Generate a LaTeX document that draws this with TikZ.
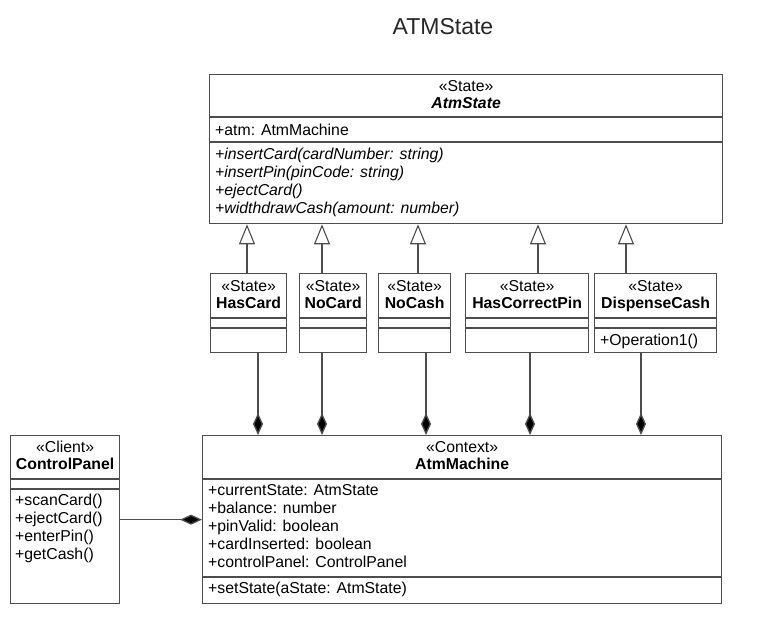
\documentclass[tikz,border=0pt]{standalone}
\usepackage{fontspec}
\setmainfont{Liberation Sans}
\usepackage{xcolor}
\usepackage{tikz}
\usetikzlibrary{arrows.meta}
\usetikzlibrary{calc}

\definecolor{linegray}{HTML}{4D4D4D}
\newcommand{\umlsize}{\fontsize{15.8}{18}\selectfont}

\begin{document}
\begin{tikzpicture}[x=1pt,y=-1pt,
        every node/.style={inner sep=0pt,font=\umlsize},
        classbox/.style={draw=linegray,line width=1.3pt,fill=white,anchor=north west},
        sepline/.style={draw=linegray,line width=1.3pt},
        stereo/.style={anchor=base},
        classname/.style={anchor=base,font=\umlsize\bfseries},
        member/.style={anchor=base west},
        gen/.style={draw=linegray,line width=1.3pt,-{Triangle[open,length=20pt,width=16pt,line width=1.1pt,fill=white]}},
        comp/.style={draw=linegray,line width=1.3pt,-{Diamond[length=22pt,width=10pt,fill=black]}}]
        \useasboundingbox (0,0) rectangle (763,643);

        \node[anchor=base,font=\fontsize{23}{26}\selectfont,text=black!85] (title) at (443,34) {ATMState};

        % abstract state
        \node[classbox,minimum width=513pt,minimum height=149pt] (atmstate) at (209,74) {};
        \draw[sepline] ([yshift=-43pt]atmstate.north west) -- ([yshift=-43pt]atmstate.north east);
        \draw[sepline] ([yshift=-68pt]atmstate.north west) -- ([yshift=-68pt]atmstate.north east);
        \node[stereo] at ([yshift=-17pt]atmstate.north) {«State»};
        \node[classname,font=\umlsize\bfseries\itshape] at ([yshift=-34pt]atmstate.north) {AtmState};
        \node[member] at ([xshift=6pt,yshift=-61pt]atmstate.north west) {+atm: AtmMachine};
        \node[member] at ([xshift=6pt,yshift=-85pt]atmstate.north west) {\textit{+insertCard(cardNumber: string)}};
        \node[member] at ([xshift=6pt,yshift=-103pt]atmstate.north west) {\textit{+insertPin(pinCode: string)}};
        \node[member] at ([xshift=6pt,yshift=-121pt]atmstate.north west) {\textit{+ejectCard()}};
        \node[member] at ([xshift=6pt,yshift=-139pt]atmstate.north west) {\textit{+widthdrawCash(amount: number)}};

        % context
        \node[classbox,minimum width=519pt,minimum height=168pt] (atmmachine) at (202,435) {};
        \draw[sepline] ([yshift=-44pt]atmmachine.north west) -- ([yshift=-44pt]atmmachine.north east);
        \draw[sepline] ([yshift=-142pt]atmmachine.north west) -- ([yshift=-142pt]atmmachine.north east);
        \node[stereo] at ([yshift=-17pt]atmmachine.north) {«Context»};
        \node[classname] at ([yshift=-34pt]atmmachine.north) {AtmMachine};
        \node[member] at ([xshift=6pt,yshift=-60pt]atmmachine.north west) {+currentState: AtmState};
        \node[member] at ([xshift=6pt,yshift=-78pt]atmmachine.north west) {+balance: number};
        \node[member] at ([xshift=6pt,yshift=-96pt]atmmachine.north west) {+pinValid: boolean};
        \node[member] at ([xshift=6pt,yshift=-114pt]atmmachine.north west) {+cardInserted: boolean};
        \node[member] at ([xshift=6pt,yshift=-132pt]atmmachine.north west) {+controlPanel: ControlPanel};
        \node[member] at ([xshift=6pt,yshift=-158pt]atmmachine.north west) {+setState(aState: AtmState)};

        % client
        \node[classbox,minimum width=109pt,minimum height=168pt] (controlpanel) at (10,435) {};
        \draw[sepline] ([yshift=-44pt]controlpanel.north west) -- ([yshift=-44pt]controlpanel.north east);
        \draw[sepline] ([yshift=-54pt]controlpanel.north west) -- ([yshift=-54pt]controlpanel.north east);
        \node[stereo] at ([yshift=-17pt]controlpanel.north) {«Client»};
        \node[classname] at ([yshift=-34pt]controlpanel.north) {ControlPanel};
        \node[member] at ([xshift=5pt,yshift=-70pt]controlpanel.north west) {+scanCard()};
        \node[member] at ([xshift=5pt,yshift=-88pt]controlpanel.north west) {+ejectCard()};
        \node[member] at ([xshift=5pt,yshift=-106pt]controlpanel.north west) {+enterPin()};
        \node[member] at ([xshift=5pt,yshift=-124pt]controlpanel.north west) {+getCash()};
        \draw[comp] (controlpanel.east) -- (controlpanel.east -| atmmachine.west);

        % concrete states
        \foreach \name/\label/\x/\w/\gx/\cx in {hascard/HasCard/210/76/37/48,
                nocard/NoCard/299/67/23/23,
                nocash/NoCash/378/72/40/48,
                hascorrectpin/HasCorrectPin/465/123/73/65,
                dispensecash/DispenseCash/594/122/32/47} {
            \node[classbox,minimum width=\w pt,minimum height=79pt] (\name) at (\x,273) {};
            \draw[sepline] ([yshift=-45pt]\name.north west) -- ([yshift=-45pt]\name.north east);
            \draw[sepline] ([yshift=-55pt]\name.north west) -- ([yshift=-55pt]\name.north east);
            \node[stereo] at ([yshift=-18pt]\name.north) {«State»};
            \node[classname] at ([yshift=-35pt]\name.north) {\label};
            \coordinate (\name-g) at ([xshift=\gx pt]\name.north west);
            \coordinate (\name-c) at ([xshift=\cx pt]\name.south west);
            \draw[gen] (\name-g) -- (\name-g |- atmstate.south);
            \draw[comp] (\name-c) -- (\name-c |- atmmachine.north);
        }
        \node[member] at ([xshift=6pt,yshift=-72pt]dispensecash.north west) {+Operation1()};
    \end{tikzpicture}
\end{document}
